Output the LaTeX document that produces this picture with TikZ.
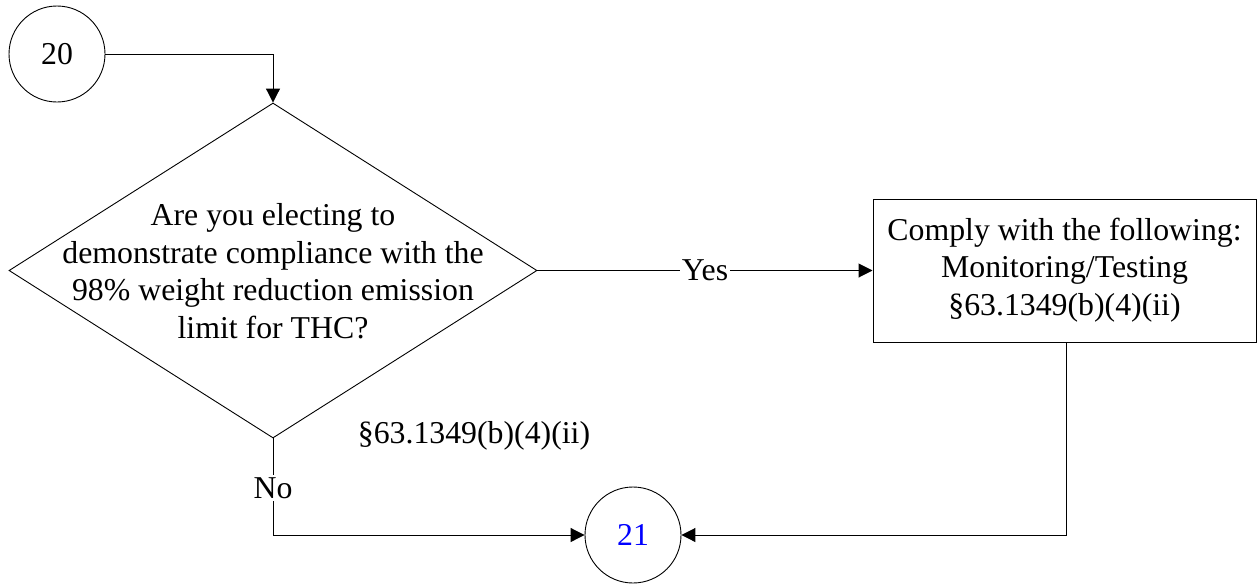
\documentclass[tikz,border=0pt]{standalone}
\usepackage{fontspec}
\setmainfont{Liberation Serif}
\usetikzlibrary{shapes.geometric,arrows.meta}
\definecolor{numblue}{RGB}{0,0,255}
\begin{document}
\begin{tikzpicture}[x=1pt,y=-1pt,
  every node/.style={font=\fontsize{31.8}{37.5}\selectfont},
  conn/.style={line width=1pt,-{Triangle[length=14pt,width=14pt]}},
  circ/.style={draw,circle,line width=0.9pt,minimum size=96pt,inner sep=0pt},
  dia/.style={draw,diamond,line width=0.9pt,minimum width=528pt,minimum height=335pt,inner sep=0pt},
  boxstyle/.style={draw,rectangle,line width=1pt,minimum width=383pt,minimum height=143pt,inner sep=0pt},
  lbl/.style={fill=white,inner sep=2pt},
  txt/.style={align=center,inner sep=0pt}]
\useasboundingbox (0,0) rectangle (1257,584);
\node[circ] (c20) at (57,54) {20};
\node[dia] (d) at (273,270.5) {};
\node[txt] (dtext) at (273,271) {Are you electing to\\demonstrate compliance with the\\98\% weight reduction emission\\limit for THC?};
\node[boxstyle] (b) at (1064.5,270.5) {};
\node[txt] (btext) at (1064.5,270) {Comply with the following:\\Monitoring/Testing\\§63.1349(b)(4)(ii)};
\node[circ] (c21) at (633,535) {\textcolor{numblue}{21}};
\node[txt] (ref) at (474,436) {§63.1349(b)(4)(ii)};
\coordinate (k1) at (d.north |- c20.east);
\coordinate (k2) at (d.south |- c21.west);
\coordinate (bb) at (1066,342);
\coordinate (k3) at (bb |- c21.east);
\draw[conn] (c20.east) -- (k1) -- (d.north);
\draw[conn] (d.east) -- (b.west);
\node[lbl] (yeslbl) at (705,270.5) {Yes};
\draw[conn] (d.south) -- (k2) -- (c21.west);
\node[lbl] (nolbl) at (273,488) {No};
\draw[conn] (bb) -- (k3) -- (c21.east);
\end{tikzpicture}
\end{document}
